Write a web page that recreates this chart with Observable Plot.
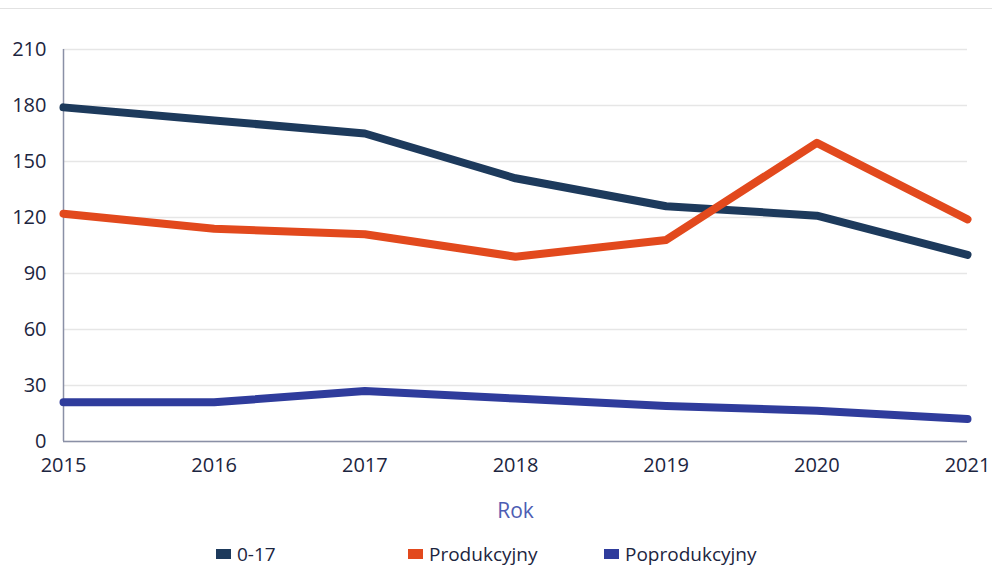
<!DOCTYPE html>
<html>
<head>
<meta charset="utf-8">
<script src="https://cdn.jsdelivr.net/npm/d3@7"></script>
<script src="https://cdn.jsdelivr.net/npm/@observablehq/plot@0.6"></script>
<style>
  html, body { margin: 0; padding: 0; background: #fff; }
  body { width: 992px; height: 568px; overflow: hidden; font-family: "Open Sans", sans-serif; }
  .topline { height: 8px; border-bottom: 1px solid #e2e2e2; }
  #chart svg { display: block; }
  .legend { display: flex; align-items: center; padding-left: 216px; margin-top: 14px; font-size: 19px; line-height: 22px; color: #1c2540; }
  .legend .item { display: flex; align-items: center; }
  .legend .sw { width: 15px; height: 10px; margin-right: 6px; }
</style>
</head>
<body>
<div class="topline"></div>
<div id="chart"></div>
<div class="legend" id="legend"></div>
<script>
const years = [2015, 2016, 2017, 2018, 2019, 2020, 2021];
const seriesNames = ["0-17", "Produkcyjny", "Poprodukcyjny"];
const values0_17 = [179, 172, 165, 141, 126, 121, 100];
const valuesProdukcyjny = [122, 114, 111, 99, 108, 160, 119];
const valuesPoprodukcyjny = [21, 21, 27, 23, 19, 16.5, 12];
const yTicks = [0, 30, 60, 90, 120, 150, 180, 210];
const xLabel = "Rok";
const colors = ["#1d3a5c", "#e2491d", "#2f3c9c"];

const allValues = [values0_17, valuesProdukcyjny, valuesPoprodukcyjny];
const data = [];
seriesNames.forEach((s, i) => years.forEach((y, j) => data.push({series: s, year: y, value: allValues[i][j]})));

const chart = Plot.plot({
  width: 992,
  height: 520,
  marginTop: 40,
  marginLeft: 63,
  marginRight: 25,
  marginBottom: 88,
  style: {fontFamily: "Open Sans, sans-serif", fontSize: "19px", color: "#1c2540", background: "#fff"},
  x: {domain: [2015, 2021], ticks: years},
  y: {domain: [0, 210], ticks: yTicks},
  color: {domain: seriesNames, range: colors},
  marks: [
    Plot.gridY(yTicks, {stroke: "#e6e6e6", strokeOpacity: 1, strokeWidth: 1.5}),
    Plot.axisY(yTicks, {tickSize: 0, tickPadding: 17, label: null, fontSize: 20, fill: "#1c2540"}),
    Plot.axisX(years, {tickSize: 0, tickPadding: 16, tickFormat: "d", label: null, fontSize: 20, fill: "#1c2540"}),
    Plot.ruleX([2015], {y1: 0, y2: 210, stroke: "#8a90a6", strokeWidth: 1.5}),
    Plot.ruleY([0], {stroke: "#8a90a6", strokeWidth: 1.5}),
    Plot.line(data, {x: "year", y: "value", z: "series", stroke: "series", strokeWidth: 8, strokeLinejoin: "round"}),
    Plot.text([xLabel], {frameAnchor: "bottom", dy: 76, text: d => d, fontSize: 21, fill: "#4d5db3"})
  ]
});
document.getElementById("chart").appendChild(chart);

const legend = document.getElementById("legend");
const widths = [192, 196, 200];
seriesNames.forEach((s, i) => {
  const item = document.createElement("div");
  item.className = "item";
  item.style.width = widths[i] + "px";
  item.innerHTML = `<span class="sw" style="background:${colors[i]}"></span><span>${s}</span>`;
  legend.appendChild(item);
});
</script>
</body>
</html>
